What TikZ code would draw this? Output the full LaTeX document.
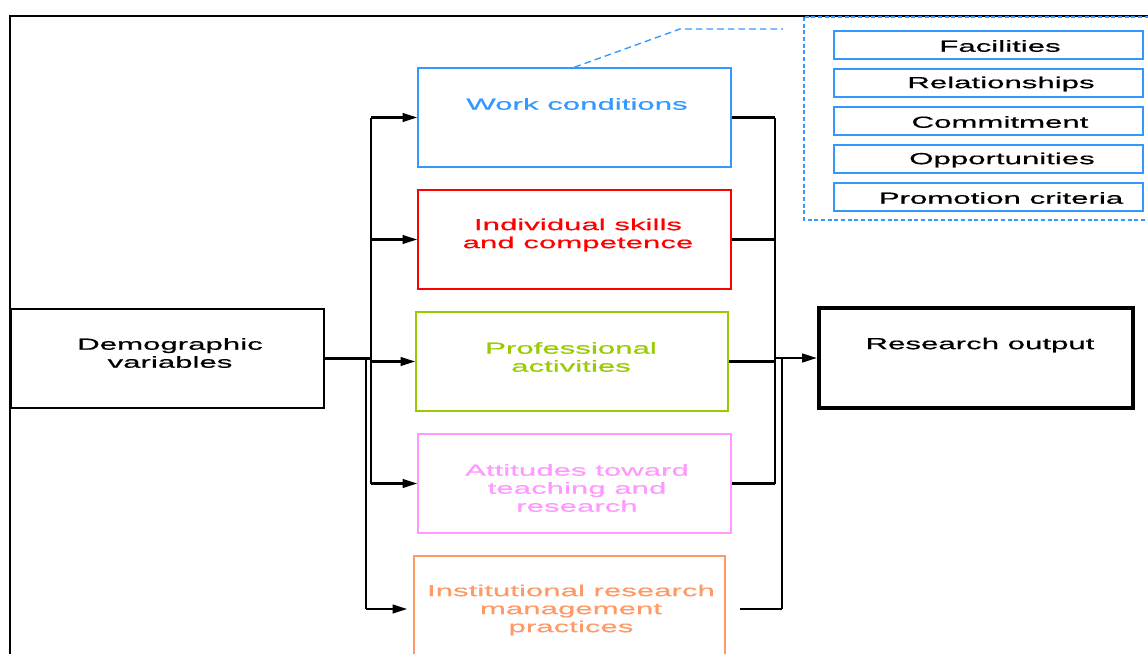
\documentclass[tikz,border=0pt]{standalone}
\usepackage{fontspec}
\setmainfont{Liberation Sans}[FakeStretch=1.95,FakeBold=0.6]
\usetikzlibrary{fit,arrows.meta}

\definecolor{wcblue}{HTML}{3399FF}
\definecolor{skred}{HTML}{FF0000}
\definecolor{pagreen}{HTML}{99CC00}
\definecolor{attpink}{HTML}{FF99FF}
\definecolor{instorange}{HTML}{FF9966}

\tikzset{
  box/.style={draw, inner sep=0pt, line width=1.2pt},
  subbox/.style={box, draw=wcblue},
  txt/.style={align=center, inner sep=0pt, font=\fontsize{12}{13.5}\selectfont},
  conn/.style={line width=1.6pt},
  bus/.style={line width=2.2pt},
  arr/.style={conn, -{Triangle[length=11pt,width=6.5pt]}},
}

\begin{document}
\begin{tikzpicture}[x=0.75pt,y=-0.75pt]
\useasboundingbox (0,0) rectangle (1148,653);
\clip (0,0) rectangle (1148,653);

% outer frame
\draw[line width=1.5pt] (10,670) -- (10,16) -- (1160,16);

% main boxes
\node[box, fit={(11,309) (324,408)}] (dem) {};
\node[box, draw=wcblue, fit={(418,68) (731,167)}] (wc) {};
\node[box, draw=skred, fit={(418,190) (731,289)}] (sk) {};
\node[box, draw=pagreen, fit={(416,312) (728,411)}] (pa) {};
\node[box, draw=attpink, fit={(418,434) (731,533)}] (att) {};
\node[box, draw=instorange, fit={(414,556) (725,662)}] (inst) {};
\node[box, line width=3.2pt, fit={(819,308) (1133,408)}] (ro) {};

% box labels
\node[txt] (demt) at (170,353) {Demographic\\variables};
\node[txt, text=wcblue] (wct) at (577,104) {Work conditions};
\node[txt, text=skred] (skt) at (578,235) {Individual skills\\and competence};
\node[txt, text=pagreen] (pat) at (571,357) {Professional\\activities};
\node[txt, text=attpink] (attt) at (577,488) {Attitudes toward\\teaching and\\research};
\node[txt, text=instorange] (instt) at (571,610) {Institutional research\\management\\practices};
\node[txt] (rot) at (980,345) {Research output};

% work-condition components
\draw[wcblue, line width=1.1pt, dash pattern=on 3pt off 2pt] (804,17) rectangle (1160,220);
\node[subbox, fit={(834,31) (1143,59)}] (f1) {};
\node[subbox, fit={(834,69) (1143,97)}] (f2) {};
\node[subbox, fit={(834,107) (1143,135)}] (f3) {};
\node[subbox, fit={(834,145) (1143,173)}] (f4) {};
\node[subbox, fit={(834,183) (1143,211)}] (f5) {};
\node[txt] (f1t) at (1000,46) {Facilities};
\node[txt] (f2t) at (1001,84) {Relationships};
\node[txt] (f3t) at (1000,122) {Commitment};
\node[txt] (f4t) at (1002,160) {Opportunities};
\node[txt] (f5t) at (1001,198) {Promotion criteria};

\coordinate (lk1) at (680,29);
\coordinate (lk2) at (783,29);
\draw[wcblue, line width=1pt, dash pattern=on 5pt off 3pt] (wc.north) -- (lk1) -- (lk2);

% left distribution buses
\coordinate (busL) at (371,0);
\coordinate (busLb) at (366,0);
\draw[conn] (dem.east) -- (busL |- dem.east);
\draw[bus] (busL |- wc.west) -- (busL |- att.west);
\draw[bus] (busLb |- dem.east) -- (busLb |- inst.west);
\draw[arr] (busL |- wc.west) -- (wc.west);
\draw[arr] (busL |- sk.west) -- (sk.west);
\draw[arr] (busL |- pa.west) -- (pa.west);
\draw[arr] (busL |- att.west) -- (att.west);
\draw[arr] (busLb |- inst.west) -- ([xshift=-4.5pt]inst.west);

% right collecting buses
\coordinate (busR) at (775,0);
\coordinate (busRb) at (782,0);
\draw[conn] (wc.east) -- (busR |- wc.east);
\draw[bus] (busR |- wc.east) -- (busR |- att.east);
\draw[conn] (sk.east) -- (busR |- sk.east);
\draw[conn] (pa.east) -- (busR |- pa.east);
\draw[conn] (att.east) -- (busR |- att.east);
\draw[conn] ([xshift=11pt]inst.east) -- (busRb |- inst.east);
\draw[bus] (busRb |- inst.east) -- (busRb |- ro.west);
\draw[arr] (busR |- ro.west) -- (ro.west);
\end{tikzpicture}
\end{document}
